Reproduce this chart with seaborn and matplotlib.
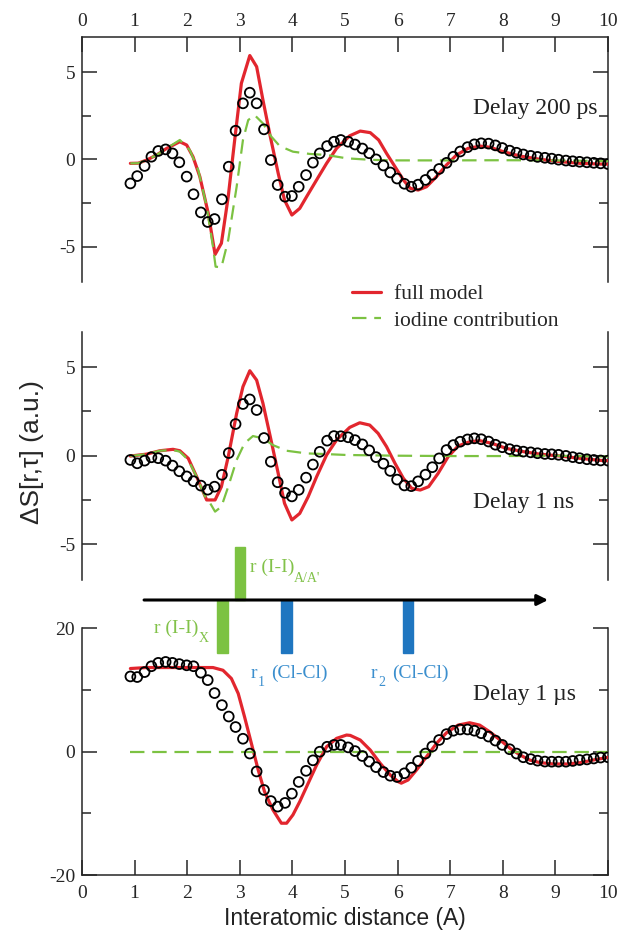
import numpy as np
import pandas as pd
import matplotlib
matplotlib.use("Agg")
import matplotlib.pyplot as plt
import matplotlib.transforms as mtransforms
from matplotlib.patches import Rectangle
from matplotlib.ticker import MultipleLocator
import seaborn as sns

# ---------------- data ----------------
r_obs = [0.92, 1.05, 1.19, 1.32, 1.45, 1.59, 1.72, 1.85, 1.99, 2.12,
         2.26, 2.39, 2.52, 2.66, 2.79, 2.92, 3.06, 3.19, 3.32, 3.46,
         3.59, 3.72, 3.86, 3.99, 4.12, 4.26, 4.39, 4.52, 4.66, 4.79,
         4.92, 5.06, 5.19, 5.33, 5.46, 5.59, 5.73, 5.86, 5.99, 6.13,
         6.26, 6.39, 6.53, 6.66, 6.79, 6.93, 7.06, 7.19, 7.33, 7.46,
         7.59, 7.73, 7.86, 7.99, 8.13, 8.26, 8.39, 8.53, 8.66, 8.80,
         8.93, 9.06, 9.20, 9.33, 9.46, 9.60, 9.73, 9.86, 10.00]

obs_200ps = [-1.38, -0.96, -0.38, 0.15, 0.48, 0.57, 0.34, -0.17, -0.99, -2.00,
             -3.04, -3.59, -3.42, -2.29, -0.42, 1.64, 3.21, 3.82, 3.21, 1.72,
             -0.04, -1.47, -2.14, -2.10, -1.57, -0.90, -0.19, 0.34, 0.76, 1.01,
             1.11, 1.01, 0.85, 0.62, 0.35, 0.00, -0.35, -0.75, -1.10, -1.40,
             -1.57, -1.45, -1.18, -0.88, -0.55, -0.20, 0.15, 0.45, 0.70, 0.86,
             0.92, 0.90, 0.80, 0.65, 0.50, 0.38, 0.28, 0.20, 0.14, 0.09,
             0.04, -0.02, -0.07, -0.11, -0.14, -0.17, -0.20, -0.23, -0.27]

obs_1ns = [-0.24, -0.43, -0.28, -0.09, -0.14, -0.28, -0.56, -0.88, -1.17, -1.44,
           -1.69, -1.92, -1.75, -1.08, 0.15, 1.79, 2.92, 3.18, 2.58, 1.00,
           -0.34, -1.50, -2.10, -2.30, -1.93, -1.24, -0.50, 0.22, 0.85, 1.11,
           1.10, 1.04, 0.88, 0.64, 0.30, -0.08, -0.45, -0.86, -1.35, -1.68,
           -1.72, -1.45, -1.07, -0.65, -0.15, 0.32, 0.60, 0.79, 0.92, 0.98,
           0.93, 0.80, 0.62, 0.48, 0.37, 0.29, 0.23, 0.19, 0.14, 0.10,
           0.08, 0.05, -0.01, -0.08, -0.14, -0.20, -0.24, -0.27, -0.28]

obs_1us = [12.2, 12.1, 12.9, 13.85, 14.4, 14.55, 14.4, 14.2, 14.0, 13.85,
           12.8, 11.6, 9.5, 7.55, 5.7, 4.0, 2.1, -0.3, -3.2, -6.2,
           -8.0, -8.9, -8.3, -6.8, -4.9, -3.1, -1.4, 0.0, 0.8, 1.1,
           1.1, 0.7, 0.1, -0.7, -1.6, -2.5, -3.3, -3.9, -4.1, -3.5,
           -2.6, -1.5, -0.3, 0.85, 1.9, 2.85, 3.4, 3.6, 3.6, 3.4,
           3.0, 2.45, 1.8, 1.1, 0.4, -0.3, -0.9, -1.2, -1.45, -1.6,
           -1.62, -1.62, -1.62, -1.5, -1.35, -1.25, -1.1, -0.95, -0.9]

r_fit_200ps = [0.92, 1.07, 1.23, 1.42, 1.61, 1.80, 1.86, 1.99, 2.11, 2.24,
               2.40, 2.53, 2.65, 2.78, 2.91, 3.03, 3.19, 3.32, 3.44, 3.58,
               3.73, 3.85, 3.99, 4.14, 4.27, 4.46, 4.65, 4.84, 5.09, 5.29,
               5.48, 5.64, 5.79, 5.95, 6.11, 6.24, 6.39, 6.55, 6.74, 6.93,
               7.12, 7.34, 7.57, 7.76, 8.01, 8.33, 8.71, 9.09, 9.47, 9.85, 10.00]
fit_200ps = [-0.23, -0.22, -0.04, 0.25, 0.63, 0.92, 1.01, 0.82, 0.15, -0.99,
             -3.09, -5.45, -4.81, -2.14, 1.30, 4.36, 5.95, 5.31, 3.40, 1.30,
             -0.80, -2.33, -3.19, -2.81, -2.14, -1.18, -0.23, 0.63, 1.35, 1.62,
             1.53, 1.11, 0.34, -0.42, -1.18, -1.66, -1.76, -1.57, -0.99, -0.32,
             0.25, 0.63, 0.76, 0.69, 0.44, 0.19, 0.00, -0.13, -0.23, -0.27, -0.27]

r_iod_200ps = [0.92, 1.07, 1.23, 1.42, 1.61, 1.86, 2.05, 2.21, 2.37, 2.49,
               2.54, 2.65, 2.78, 2.94, 3.06, 3.16, 3.28, 3.44, 3.60, 3.76,
               4.01, 4.33, 4.65, 5.03, 5.50, 6.00, 7.00, 8.00, 9.00, 10.00]
iod_200ps = [-0.23, -0.22, -0.04, 0.25, 0.63, 1.11, 0.53, -0.61, -2.71, -5.00,
             -6.15, -6.19, -4.62, -1.57, 1.11, 2.25, 2.54, 2.06, 1.30, 0.76,
             0.44, 0.31, 0.25, 0.06, -0.03, -0.06, -0.06, -0.05, -0.06, -0.10]

r_fit_1ns = [0.92, 1.23, 1.48, 1.73, 1.86, 2.02, 2.18, 2.37, 2.53, 2.65,
             2.78, 2.94, 3.06, 3.19, 3.32, 3.44, 3.58, 3.73, 3.85, 3.99,
             4.14, 4.30, 4.46, 4.65, 4.84, 5.09, 5.28, 5.47, 5.63, 5.79,
             5.95, 6.11, 6.27, 6.43, 6.59, 6.77, 6.96, 7.15, 7.37, 7.56,
             7.79, 8.07, 8.39, 8.70, 9.09, 9.47, 9.91, 10.00]
fit_1ns = [-0.02, 0.09, 0.28, 0.36, 0.28, -0.15, -1.19, -2.50, -2.50, -1.75,
           -0.06, 2.39, 3.90, 4.80, 4.27, 2.96, 1.07, -1.00, -2.69, -3.63,
           -3.26, -2.32, -1.19, 0.04, 0.89, 1.60, 1.86, 1.73, 1.26, 0.51,
           -0.43, -1.28, -1.85, -1.94, -1.75, -1.00, -0.06, 0.55, 0.79, 0.85,
           0.70, 0.41, 0.23, 0.09, -0.02, -0.15, -0.28, -0.28]

r_iod_1ns = [0.92, 1.23, 1.48, 1.73, 1.86, 2.02, 2.18, 2.34, 2.40, 2.53,
             2.65, 2.78, 2.94, 3.09, 3.25, 3.44, 3.63, 3.89, 4.27, 4.65,
             5.03, 6.00, 7.00, 8.00, 9.00, 10.00]
iod_1ns = [-0.02, 0.09, 0.28, 0.32, 0.23, -0.24, -1.19, -2.30, -2.50, -3.16,
           -2.88, -1.75, -0.24, 0.70, 1.11, 0.98, 0.60, 0.28, 0.13, 0.09,
           0.04, 0.00, -0.02, -0.02, 0.00, -0.05]

r_fit_1us = [0.92, 1.23, 1.86, 2.49, 2.68, 2.84, 2.97, 3.09, 3.22, 3.35,
             3.47, 3.63, 3.79, 3.89, 4.01, 4.14, 4.30, 4.46, 4.65, 4.84,
             5.03, 5.10, 5.29, 5.48, 5.67, 5.86, 6.01, 6.07, 6.20, 6.36,
             6.55, 6.74, 6.93, 7.15, 7.37, 7.56, 7.75, 7.95, 8.14, 8.33,
             8.51, 8.71, 8.96, 9.22, 9.47, 9.72, 10.00]
fit_1us = [13.48, 13.64, 13.64, 13.64, 13.20, 11.86, 9.43, 5.66, 1.35, -2.96,
           -6.47, -9.43, -11.59, -11.59, -10.24, -8.09, -5.12, -2.16, 0.81, 2.16,
           2.70, 2.64, 1.89, 0.27, -1.89, -3.77, -4.85, -5.10, -4.58, -2.96,
           -0.81, 1.35, 3.07, 4.31, 4.69, 4.31, 3.23, 1.89, 0.54, -0.54,
           -1.35, -1.78, -1.99, -1.99, -1.78, -1.35, -0.92]

r_iod_1us = [0.92, 10.00]
iod_1us = [0.0, 0.0]

panel_labels = ["Delay 200 ps", "Delay 1 ns", "Delay 1 \u00b5s"]
legend_labels = ["full model", "iodine contribution"]
x_ticks = [0, 1, 2, 3, 4, 5, 6, 7, 8, 9, 10]

# distance markers (bars on the arrow)
mark_r = [3.00, 2.67, 3.89, 6.20]

# ---------------- style ----------------
sns.set_style("ticks")
plt.rcParams["font.family"] = ["Liberation Serif", "DejaVu Serif"]
plt.rcParams["axes.unicode_minus"] = False

RED = "#e2262e"
GREEN = "#7cc242"
GREEN_TXT = "#82c24a"
BLUE_BAR = "#1f76c0"
BLUE_TXT = "#3b8fce"

W, H = 621, 936
fig = plt.figure(figsize=(W / 100, H / 100), dpi=100)


def fx(px):
    return px / W


def fy(py):
    return 1 - py / H


left, right = 82, 608
axes_px = [(37.2, 281.5), (331.8, 579.6), (628.3, 875.1)]
axs = []
for top, bot in axes_px:
    axs.append(fig.add_axes([fx(left), fy(bot), (right - left) / W, (bot - top) / H]))

obs_sets = [obs_200ps, obs_1ns, obs_1us]
fit_sets = [(r_fit_200ps, fit_200ps), (r_fit_1ns, fit_1ns), (r_fit_1us, fit_1us)]
iod_sets = [(r_iod_200ps, iod_200ps), (r_iod_1ns, iod_1ns), (r_iod_1us, iod_1us)]
ylims = [(-7, 7), (-7, 7), (-20, 20)]
ymaj = [5, 5, 20]
label_y = [2.94, -2.67, 9.2]

handles = None
for i, ax in enumerate(axs):
    rf, yf = fit_sets[i]
    ri, yi = iod_sets[i]
    sns.lineplot(x=rf, y=yf, ax=ax, color=RED, lw=2.3, sort=False, zorder=3)
    sns.lineplot(x=ri, y=yi, ax=ax, color=GREEN, lw=1.6, sort=False, zorder=4,
                 linestyle=(0, (6.5, 3.5)))
    sns.scatterplot(x=r_obs, y=obs_sets[i], ax=ax, marker="o", s=50,
                    facecolor="none", edgecolor="black", linewidth=1.3, zorder=5)
    if i == 0:
        handles = ax.get_lines()[:2]
    ax.set_xlim(0, 10)
    ax.set_ylim(*ylims[i])
    ax.set_xlabel("")
    ax.set_ylabel("")
    ax.yaxis.set_major_locator(MultipleLocator(ymaj[i]))
    ax.yaxis.set_minor_locator(MultipleLocator(ymaj[i] / 2))
    ax.set_xticks(x_ticks)
    ax.tick_params(axis="both", which="major", direction="in", length=10.5, width=1.1,
                   labelsize=14, pad=5, right=True, labelright=False)
    ax.tick_params(axis="y", which="minor", direction="in", length=6.5, width=1.1,
                   right=True)
    for s in ax.spines.values():
        s.set_linewidth(1.1)
    ax.text(7.43, label_y[i], panel_labels[i], fontsize=17, va="center", ha="left",
            color="#222222")

# top panel: x ticks on top
axs[0].spines["bottom"].set_visible(False)
axs[0].xaxis.tick_top()
axs[0].tick_params(axis="x", which="major", direction="in", length=10.5, width=1.1,
                   top=True, bottom=False, labeltop=True, labelbottom=False)
# middle panel: no x axis
axs[1].spines["bottom"].set_visible(False)
axs[1].spines["top"].set_visible(False)
axs[1].tick_params(axis="x", which="both", bottom=False, top=False,
                   labelbottom=False, labeltop=False)
# bottom panel: x ticks at bottom
axs[2].spines["top"].set_visible(False)
axs[2].tick_params(axis="x", which="major", top=False, bottom=True,
                   labelbottom=True, pad=7)

# legend
fig.legend(handles=handles, labels=legend_labels, loc="upper left",
           bbox_to_anchor=(fx(352), fy(284)), frameon=False, fontsize=15.5,
           handlelength=1.35, handletextpad=0.6, labelspacing=0.3,
           borderaxespad=0, borderpad=0)

# axis labels
fig.text(fx(32), fy(452), "\u0394S[r,\u03c4] (a.u.)", rotation=90, ha="center",
         va="center", fontsize=19, family=["Liberation Sans", "DejaVu Sans"])
fig.text(fx(345), fy(918), "Interatomic distance (A)", ha="center", va="center",
         fontsize=16.5, family=["Liberation Sans", "DejaVu Sans"], color="#222222")

# arrow with distance markers
ax3 = axs[2]
trans = mtransforms.blended_transform_factory(ax3.transData, fig.transFigure)
ax3.annotate("", xy=(8.86, fy(600)), xytext=(1.18, fy(600)), xycoords=trans,
             textcoords=trans, annotation_clip=False,
             arrowprops=dict(arrowstyle="-|>", lw=2.2, color="black",
                             mutation_scale=16, shrinkA=0, shrinkB=0))
bar_w = 0.20
bar_specs = [(mark_r[0], fy(600), fy(547), GREEN),
             (mark_r[1], fy(653), fy(600), GREEN),
             (mark_r[2], fy(653), fy(600), BLUE_BAR),
             (mark_r[3], fy(653), fy(600), BLUE_BAR)]
for xc, y0, y1, col in bar_specs:
    ax3.add_patch(Rectangle((xc - bar_w / 2, y0), bar_w, y1 - y0, transform=trans,
                            color=col, clip_on=False, zorder=2))

fs_main, fs_sub = 14, 10
fig.text(fx(250), fy(567), "r (I-I)", color=GREEN_TXT, fontsize=fs_main, va="center")
fig.text(fx(294), fy(578), "A/A'", color=GREEN_TXT, fontsize=fs_sub, va="center")
fig.text(fx(198), fy(628), "r (I-I)", color=GREEN_TXT, fontsize=fs_main, va="center",
         ha="right")
fig.text(fx(199), fy(638), "X", color=GREEN_TXT, fontsize=fs_sub, va="center")
fig.text(fx(251), fy(673), "r", color=BLUE_TXT, fontsize=fs_main, va="center")
fig.text(fx(258), fy(682), "1", color=BLUE_TXT, fontsize=fs_sub, va="center")
fig.text(fx(271), fy(673), "(Cl-Cl)", color=BLUE_TXT, fontsize=fs_main, va="center")
fig.text(fx(371), fy(673), "r", color=BLUE_TXT, fontsize=fs_main, va="center")
fig.text(fx(378), fy(682), "2", color=BLUE_TXT, fontsize=fs_sub, va="center")
fig.text(fx(392), fy(673), "(Cl-Cl)", color=BLUE_TXT, fontsize=fs_main, va="center")

fig.savefig("out.png", dpi=100)
